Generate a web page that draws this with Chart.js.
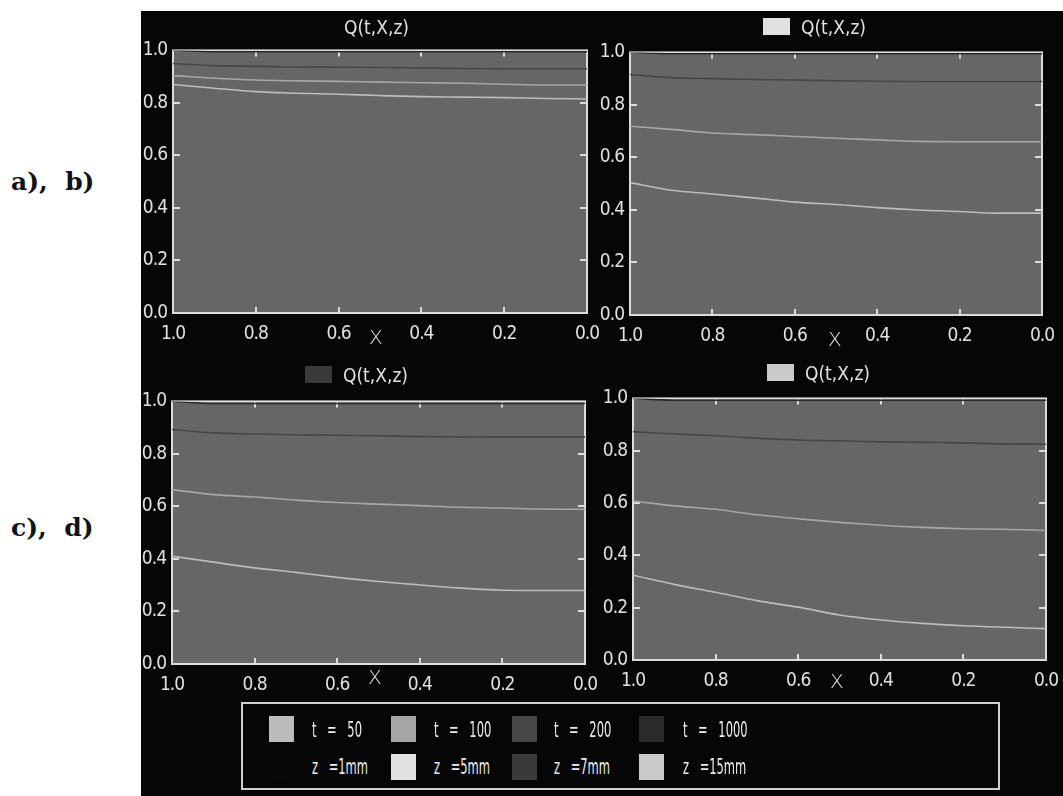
<!DOCTYPE html>
<html>
<head>
<meta charset="utf-8">
<script src="https://cdn.jsdelivr.net/npm/chart.js@4.4.1/dist/chart.umd.min.js"></script>
<style>
  html, body { margin: 0; padding: 0; background: #ffffff; }
  #page { position: relative; width: 1063px; height: 796px; overflow: hidden; background: #ffffff; }
  #black { position: absolute; left: 141px; top: 11px; width: 922px; height: 785px; background: #060606; }
  .abs { position: absolute; white-space: pre; }
  .side { font-family: "DejaVu Serif", "Liberation Serif", serif; font-weight: bold; font-size: 25px; color: #111; }
  .ttl { font-family: "DejaVu Sans Condensed", "DejaVu Sans", sans-serif; font-size: 19px; color: #e2e2e2; line-height: 20px; }
  .xt { font-family: "DejaVu Sans", sans-serif; font-size: 20px; font-weight: 200; color: #e2e2e2; line-height: 20px; }
  .sw { position: absolute; }
  #legend { position: absolute; left: 241px; top: 702px; width: 755px; height: 84px; border: 2px solid #cfcfcf; }
  .lt { font-family: "DejaVu Sans Condensed", "DejaVu Sans", sans-serif; font-size: 22px; color: #ececec; line-height: 22px;
        word-spacing: 12px; transform: scaleX(0.58); transform-origin: 0 50%; }
  canvas { position: absolute; }
</style>
</head>
<body>
<div id="page">
  <div class="abs side" style="left:11px; top:167px;">a),&#160; b)</div>
  <div class="abs side" style="left:11px; top:513px;">c),&#160; d)</div>
  <div id="black"></div>
</div>
<script>
// ---------- data ----------
const xs = [1.0, 0.9, 0.8, 0.7, 0.6, 0.5, 0.4, 0.3, 0.2, 0.1, 0.0];
const xTicks = [1.0, 0.8, 0.6, 0.4, 0.2, 0.0];
const yTicks = [0.0, 0.2, 0.4, 0.6, 0.8, 1.0];
const tLabels = ["t = 50", "t = 100", "t = 200", "t = 1000"];
const zLabels = ["z =1mm", "z =5mm", "z =7mm", "z =15mm"];
const panelTitle = "Q(t,X,z)";
const axisTitle = "X";

// panel a) z = 1mm
const a_t1000 = [1.000, 0.995, 0.995, 0.995, 0.995, 0.995, 0.995, 0.995, 0.995, 0.995, 0.995];
const a_t200  = [0.950, 0.942, 0.939, 0.937, 0.936, 0.935, 0.933, 0.931, 0.930, 0.930, 0.930];
const a_t100  = [0.904, 0.894, 0.887, 0.884, 0.882, 0.879, 0.877, 0.875, 0.871, 0.868, 0.868];
const a_t50   = [0.870, 0.856, 0.843, 0.837, 0.833, 0.828, 0.824, 0.822, 0.820, 0.817, 0.815];
// panel b) z = 5mm
const b_t1000 = [1.000, 0.995, 0.995, 0.995, 0.995, 0.995, 0.995, 0.995, 0.995, 0.995, 0.995];
const b_t200  = [0.916, 0.904, 0.900, 0.897, 0.895, 0.892, 0.890, 0.889, 0.889, 0.889, 0.889];
const b_t100  = [0.719, 0.707, 0.693, 0.687, 0.680, 0.673, 0.667, 0.661, 0.660, 0.660, 0.660];
const b_t50   = [0.504, 0.475, 0.461, 0.446, 0.430, 0.421, 0.409, 0.400, 0.394, 0.388, 0.388];
// panel c) z = 7mm
const c_t1000 = [1.000, 0.992, 0.992, 0.992, 0.992, 0.992, 0.992, 0.992, 0.992, 0.992, 0.992];
const c_t200  = [0.893, 0.880, 0.876, 0.873, 0.871, 0.869, 0.866, 0.865, 0.864, 0.864, 0.864];
const c_t100  = [0.664, 0.645, 0.636, 0.624, 0.615, 0.609, 0.603, 0.597, 0.594, 0.590, 0.589];
const c_t50   = [0.411, 0.388, 0.366, 0.349, 0.330, 0.314, 0.301, 0.289, 0.281, 0.280, 0.280];
// panel d) z = 15mm
const d_t1000 = [1.000, 0.993, 0.993, 0.993, 0.993, 0.993, 0.993, 0.993, 0.993, 0.993, 0.993];
const d_t200  = [0.873, 0.864, 0.857, 0.848, 0.841, 0.838, 0.834, 0.832, 0.830, 0.826, 0.825];
const d_t100  = [0.608, 0.589, 0.576, 0.555, 0.540, 0.526, 0.515, 0.507, 0.502, 0.500, 0.495];
const d_t50   = [0.324, 0.289, 0.259, 0.227, 0.202, 0.172, 0.153, 0.140, 0.131, 0.125, 0.120];

// ---------- styles ----------
const tColors = ["#bcbcbc", "#a6a6a6", "#464646", "#2a2a2a"];   // t=50,100,200,1000
const zColors = ["#070707", "#e0e0e0", "#3a3a3a", "#cacaca"];   // z=1,5,7,15 mm
const tickFont = { family: "'DejaVu Sans Condensed', 'DejaVu Sans', sans-serif", size: 19 };

const panels = [
  { series: [a_t50, a_t100, a_t200, a_t1000], left: 173, top: 45, w: 414, h: 268, zi: 0,
    title: { x: 344, y: 17, sw: false }, xt: { x: 369, y: 327 } },
  { series: [b_t50, b_t100, b_t200, b_t1000], left: 630, top: 47, w: 412, h: 268, zi: 1,
    title: { x: 801, y: 17, sw: true }, xt: { x: 828, y: 329 } },
  { series: [c_t50, c_t100, c_t200, c_t1000], left: 172, top: 396, w: 413, h: 268, zi: 2,
    title: { x: 343, y: 365, sw: true }, xt: { x: 368, y: 667 } },
  { series: [d_t50, d_t100, d_t200, d_t1000], left: 633, top: 393, w: 413, h: 267, zi: 3,
    title: { x: 805, y: 363, sw: true }, xt: { x: 830, y: 671 } },
];

const page = document.getElementById('page');
function addDiv(cls, text, x, y, extra) {
  const d = document.createElement('div');
  d.className = cls;
  if (text !== null) d.textContent = text;
  d.style.left = x + 'px'; d.style.top = y + 'px';
  if (extra) Object.assign(d.style, extra);
  page.appendChild(d);
  return d;
}

const panelPlugin = {
  id: 'panelFrame',
  beforeDraw(chart) {
    try { chart.ctx.letterSpacing = '-1px'; } catch (e) {}
  },
  beforeDatasetsDraw(chart) {
    const { ctx, chartArea: a, scales: { x, y } } = chart;
    ctx.save();
    ctx.fillStyle = '#666666';
    ctx.fillRect(a.left, a.top, a.right - a.left, a.bottom - a.top);
    ctx.strokeStyle = '#dcdcdc';
    ctx.lineWidth = 2;
    ctx.strokeRect(a.left, a.top, a.right - a.left, a.bottom - a.top);
    ctx.beginPath();
    [0.2, 0.4, 0.6, 0.8].forEach(v => {
      const px = Math.round(x.getPixelForValue(v));
      ctx.moveTo(px, a.bottom); ctx.lineTo(px, a.bottom - 6);
      ctx.moveTo(px, a.top); ctx.lineTo(px, a.top + 6);
      const py = Math.round(y.getPixelForValue(v));
      ctx.moveTo(a.left, py); ctx.lineTo(a.left + 7, py);
      ctx.moveTo(a.right, py); ctx.lineTo(a.right - 7, py);
    });
    ctx.stroke();
    ctx.restore();
  }
};

const PADL = 40, PADT = 12, PADR = 28, XH = 32;
panels.forEach((p, i) => {
  const cv = document.createElement('canvas');
  const W = p.w + PADL + PADR, H = p.h + PADT + XH;
  cv.width = W; cv.height = H;
  cv.style.left = (p.left - PADL) + 'px';
  cv.style.top = (p.top - PADT) + 'px';
  cv.style.width = W + 'px'; cv.style.height = H + 'px';
  page.appendChild(cv);

  new Chart(cv.getContext('2d'), {
    type: 'line',
    data: {
      datasets: p.series.map((vals, k) => ({
        label: tLabels[k],
        data: xs.map((xv, j) => ({ x: xv, y: vals[j] })),
        borderColor: tColors[k],
        borderWidth: 1.6,
        pointRadius: 0,
        cubicInterpolationMode: 'monotone',
        fill: false
      }))
    },
    options: {
      responsive: false,
      animation: false,
      devicePixelRatio: 1,
      layout: { padding: { left: 0, top: PADT, right: PADR, bottom: 0 } },
      plugins: { legend: { display: false }, tooltip: { enabled: false }, title: { display: false } },
      scales: {
        x: {
          type: 'linear', reverse: true, min: 0, max: 1,
          grid: { display: false, drawTicks: false }, border: { display: false },
          afterBuildTicks: s => { s.ticks = xTicks.map(v => ({ value: v })); },
          ticks: { color: '#e0e0e0', font: tickFont, padding: 10, maxRotation: 0, autoSkip: false,
                   callback: v => Number(v).toFixed(1) },
          afterFit: s => { s.height = XH; }
        },
        y: {
          type: 'linear', min: 0, max: 1,
          grid: { display: false, drawTicks: false }, border: { display: false },
          afterBuildTicks: s => { s.ticks = yTicks.map(v => ({ value: v })); },
          ticks: { color: '#e0e0e0', font: tickFont, padding: 6, autoSkip: false,
                   callback: v => Number(v).toFixed(1) },
          afterFit: s => { s.width = PADL; }
        }
      }
    },
    plugins: [panelPlugin]
  });

  // panel title with swatch
  if (p.title.sw) {
    addDiv('sw', null, p.title.x - 38, p.title.y + 1, { width: '27px', height: '17px', background: zColors[p.zi] });
  }
  addDiv('abs ttl', panelTitle, p.title.x, p.title.y);
  addDiv('abs xt', axisTitle, p.xt.x, p.xt.y);
});

// ---------- legend ----------
const lg = document.createElement('div');
lg.id = 'legend';
page.appendChild(lg);
const swX = [269, 391, 512, 639];
const txX = [312, 434, 554, 683];
tLabels.forEach((t, i) => {
  addDiv('sw', null, swX[i], 716, { width: '25px', height: '26px', background: tColors[i] });
  addDiv('abs lt', t, txX[i], 719);
});
zLabels.forEach((z, i) => {
  addDiv('sw', null, swX[i], 754, { width: '25px', height: '26px', background: zColors[i] });
  addDiv('abs lt', z, txX[i], 756);
});
</script>
</body>
</html>
